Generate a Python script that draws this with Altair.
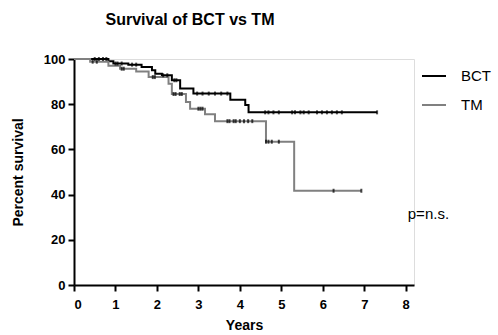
import altair as alt
import pandas as pd

# Kaplan-Meier step points (years, percent survival)
bct_t = [0, 0.83, 0.95, 1.31, 1.63, 1.88, 1.96, 2.12, 2.36, 2.56, 2.88, 3.77, 4.13, 4.21, 7.31]
bct_s = [100, 99, 98, 97.5, 96.5, 95, 93.5, 92.8, 90.6, 86.9, 84.7, 82, 79.6, 76.4, 76.4]
tm_t = [0, 0.39, 0.83, 1.11, 1.5, 1.8, 2.28, 2.36, 2.7, 2.8, 3.16, 3.4, 4.63, 5.31, 6.93]
tm_s = [100, 98.8, 97, 95.7, 94.5, 92, 89, 84.5, 81, 78, 75.5, 72.5, 63.4, 41.7, 41.7]

# censor marks (years)
bct_cens = [0.5, 0.6, 0.7, 0.78, 1.0, 1.05, 1.15, 1.4, 1.5, 2.15, 2.25, 2.42, 2.47,
            2.97, 3.1, 3.25, 3.4, 3.55, 3.7, 4.61, 4.69, 4.81, 4.94, 5.26, 5.33,
            5.46, 5.54, 5.66, 5.86, 5.98, 6.10, 6.22, 6.34, 6.46, 7.31]
tm_cens = [0.45, 0.55, 1.15, 1.2, 1.9, 1.95, 2.4, 2.45, 2.55, 2.6, 3.0, 3.05, 3.1,
           3.7, 3.75, 3.85, 3.9, 4.0, 4.1, 4.2, 4.3, 4.63, 4.69, 4.77, 4.94, 6.26, 6.93]

groups = ["BCT", "TM"]
colors = ["#000000", "#808080"]


def surv_at(ts, ss, t):
    v = ss[0]
    for ti, si in zip(ts, ss):
        if ti <= t:
            v = si
    return v


lines = pd.DataFrame(
    [{"g": "BCT", "t": t, "s": s} for t, s in zip(bct_t, bct_s)]
    + [{"g": "TM", "t": t, "s": s} for t, s in zip(tm_t, tm_s)]
)
cens = pd.DataFrame(
    [{"g": "BCT", "t": t, "s": surv_at(bct_t, bct_s, t)} for t in bct_cens]
    + [{"g": "TM", "t": t, "s": surv_at(tm_t, tm_s, t)} for t in tm_cens]
)
note = pd.DataFrame([{"t": 8.05, "s": 31.5, "label": "p=n.s."}])

FONT = "Liberation Sans"

x_scale = alt.Scale(domain=[0, 8.2], nice=False, zero=False)
y_scale = alt.Scale(domain=[0, 100], nice=False)

x_axis = alt.Axis(values=list(range(9)), format="d", grid=False, title="Years",
                  labelFont=FONT, labelFontSize=13, labelFontWeight="bold", labelColor="black",
                  labelPadding=7, tickSize=6, tickWidth=2, tickColor="black",
                  domainColor="black", domainWidth=2,
                  titleFont=FONT, titleFontSize=14, titleFontWeight="bold", titleColor="black",
                  titlePadding=7)
y_axis = alt.Axis(values=[0, 20, 40, 60, 80, 100], format="d", grid=False, title="Percent survival",
                  labelFont=FONT, labelFontSize=13, labelFontWeight="bold", labelColor="black",
                  labelPadding=3, tickSize=6, tickWidth=2, tickColor="black",
                  domainColor="black", domainWidth=2,
                  titleFont=FONT, titleFontSize=14, titleFontWeight="bold", titleColor="black",
                  titlePadding=18)

line_layer = alt.Chart(lines).mark_line(interpolate="step-after", strokeWidth=2).encode(
    x=alt.X("t:Q", scale=x_scale, axis=x_axis),
    y=alt.Y("s:Q", scale=y_scale, axis=y_axis),
    color=alt.Color("g:N", scale=alt.Scale(domain=groups, range=colors),
                    legend=alt.Legend(title=None, orient="none", legendX=347, legendY=4,
                                      symbolType="stroke", symbolSize=576, symbolStrokeWidth=2,
                                      labelFont=FONT, labelFontSize=15, labelColor="black",
                                      labelOffset=14, rowPadding=8)),
    detail="g:N",
)

tick_layer = alt.Chart(cens).mark_tick(orient="vertical", size=4, thickness=2, color="black").encode(
    x=alt.X("t:Q", scale=x_scale),
    y=alt.Y("s:Q", scale=y_scale),
)

text_layer = alt.Chart(note).mark_text(align="left", baseline="middle", font=FONT,
                                       fontSize=15, color="black").encode(
    x=alt.X("t:Q", scale=x_scale),
    y=alt.Y("s:Q", scale=y_scale),
    text="label:N",
)

chart = alt.layer(line_layer, tick_layer, text_layer).properties(
    width=340, height=226,
    padding={"left": 74, "top": 59, "right": 84, "bottom": 50},
    autosize="none",
    title=alt.TitleParams("Survival of BCT vs TM", font=FONT, fontSize=16, fontWeight="bold",
                          color="black", anchor="middle", dx=-54, offset=25),
).configure_view(stroke=None).configure(background="white")

chart.save("out.html", embed_options={"renderer": "svg", "actions": False})
